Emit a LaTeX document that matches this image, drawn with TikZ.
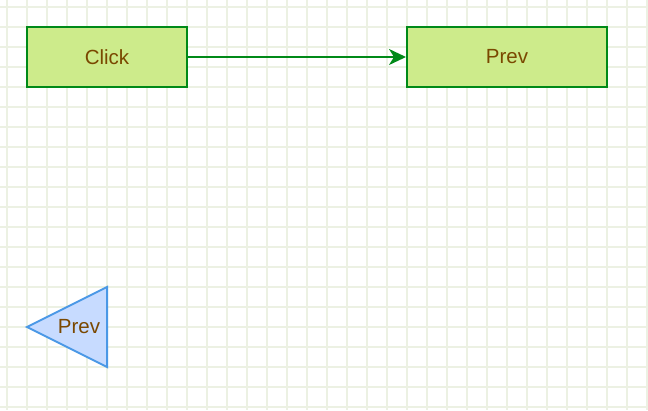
\documentclass[tikz,border=0pt]{standalone}
\usepackage{fontspec}
\setmainfont{Liberation Sans}
\usepackage{xcolor}
\usetikzlibrary{arrows.meta}
\usetikzlibrary{positioning}

\definecolor{gridgreen}{RGB}{236,241,227}
\definecolor{boxfill}{RGB}{205,235,139}
\definecolor{boxline}{RGB}{0,138,24}
\definecolor{labelbrown}{RGB}{122,72,0}
\definecolor{trifill}{RGB}{199,219,255}
\definecolor{triline}{RGB}{74,152,230}

\begin{document}
\begin{tikzpicture}[x=1pt,y=-1pt,>={Stealth[length=17pt,width=16pt,inset=5pt]},
                    every node/.style={font=\fontsize{20.5}{24}\selectfont,text=labelbrown}]
\tikzstyle{gridline}=[draw=gridgreen,line width=2pt]
\tikzstyle{pagebox}=[draw=boxline,fill=boxfill,line width=2pt,rectangle,
                     minimum height=60pt,inner sep=0pt]
\tikzstyle{link}=[->,draw=boxline,fill=boxline,line width=2pt]
\tikzstyle{prevtri}=[draw=triline,fill=trifill,line width=2pt,line join=miter]
\useasboundingbox[fill=white] (0,0) rectangle (648,410);
% background grid
\foreach \x in {7,27,...,647} \draw[gridline] (\x,0) -- (\x,410);
\foreach \y in {7,27,...,407} \draw[gridline] (0,\y) -- (648,\y);
% pages
\node[pagebox,minimum width=160pt] (click) at (107,57) {Click};
\node[pagebox,minimum width=200pt] (prev) at (507,57) {Prev};
\draw[link] (click) -- (prev);
% back button
\coordinate (tipL) at (27,327);
\coordinate (topR) at (107,287);
\coordinate (botR) at (107,367);
\draw[prevtri] (tipL) -- (topR) -- (botR) -- cycle;
\node (back) at (79,327) {Prev};
\end{tikzpicture}
\end{document}
